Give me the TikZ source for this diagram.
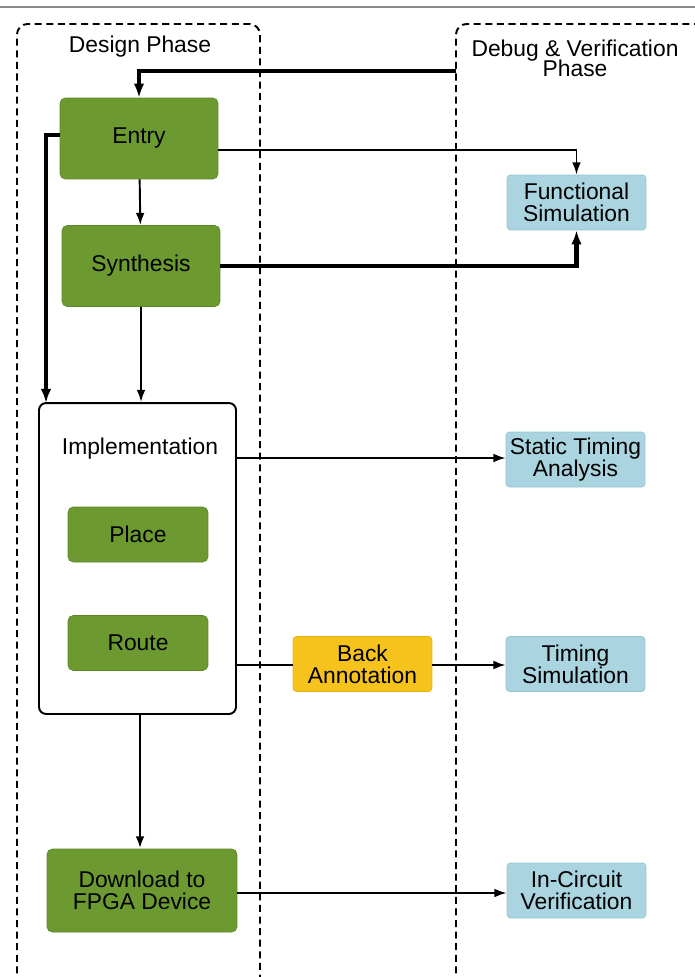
\documentclass[tikz,border=0pt]{standalone}
\usepackage{fontspec}
\setmainfont{Liberation Sans}
\usetikzlibrary{positioning,arrows.meta}
\definecolor{Leaf}{HTML}{6C9A31}
\definecolor{LeafDark}{HTML}{5B8726}
\definecolor{Sky}{HTML}{A9D4E0}
\definecolor{SkyDark}{HTML}{96C4D2}
\definecolor{Amber}{HTML}{F6C31C}
\definecolor{AmberDark}{HTML}{E8B010}

\begin{document}
\begin{tikzpicture}[
    x=0.02cm,y=-0.02cm,
    font=\fontsize{13}{14.5}\selectfont,
    phase/.style={draw=black,line width=1.1pt,dash pattern=on 4pt off 2.6pt},
    green/.style={draw=LeafDark,fill=Leaf,rounded corners=3pt,align=center,
                  minimum width=3.16cm,minimum height=1.62cm},
    small/.style={green,minimum width=2.8cm,minimum height=1.1cm},
    check/.style={draw=SkyDark,fill=Sky,rounded corners=2pt,align=center,
                  minimum width=2.78cm,minimum height=1.1cm,inner sep=1pt},
    annot/.style={check,draw=AmberDark,fill=Amber},
    arrow/.style={-{Latex[length=7pt,width=5pt]},line width=1.1pt},
    bold/.style={-{Latex[length=8pt,width=6pt]},line width=2.3pt}
  ]
    \useasboundingbox (0,0) rectangle (695,977);
    \draw[black!45,line width=0.6pt] (0,7) -- (695,7);
    % the two phases
    \draw[phase,rounded corners=6pt] (17,985) -- (17,24) -- (260,24) -- (260,985);
    \draw[phase,rounded corners=6pt] (456,985) -- (456,24) -- (705,24);
    \node (dp) at (140,47) {Design Phase};
    \node[align=center] (dv) at (575,58) {Debug \& Verification\\[-3pt]Phase};

    \node[green] (e) at (139,138.5) {Entry};
    \node[green] (s) at (141,266) {Synthesis};
    \node[draw=black,line width=1.1pt,rounded corners=4pt,minimum width=3.94cm,
          minimum height=6.22cm] (i) at (137.5,558.5) {};
    \node (il) at (140,449) {Implementation};
    \node[small] (pl) at (138,534.5) {Place};
    \node[small] (ro) at (138,643) {Route};
    \node[green,minimum width=3.8cm,minimum height=1.66cm] (d) at (142,890.5) {Download to\\[-2pt]FPGA Device};

    \node[check] (fs) at (576.5,202.5) {Functional\\[-2pt]Simulation};
    \node[check] (sta) at (575.5,459.5) {Static Timing\\[-2pt]Analysis};
    \node[annot] (ba) at (362.5,664) {Back\\[-2pt]Annotation};
    \node[check] (ts) at (575.5,664) {Timing\\[-2pt]Simulation};
    \node[check] (ic) at (576.5,890.5) {In-Circuit\\[-2pt]Verification};

    \coordinate (loop) at (456,71);
    \draw[bold] (loop) -| (e.north);
    \draw[arrow] (e) -- (s);
    \draw[arrow] (e.east |- 0,150) -| (fs.north);
    \draw[bold] (s.east) -| (fs.south);
    \draw[bold] (e.west |- 0,135) -- (46,135) -- (46,403);
    \draw[arrow] (s.south) -- (s.south |- i.north);
    \draw[arrow] (i.east |- 0,458) -- (sta.west |- 0,458);
    \draw[line width=1.1pt] (i.east |- 0,665) -- (ba.west |- 0,665);
    \draw[arrow] (ba.east |- 0,665) -- (ts.west |- 0,665);
    \draw[arrow,line width=1.5pt] (i.south -| 140,0) -- (d.north -| 140,0);
    \draw[arrow] (d.east |- 0,893) -- (ic.west |- 0,893);
  \end{tikzpicture}
\end{document}
